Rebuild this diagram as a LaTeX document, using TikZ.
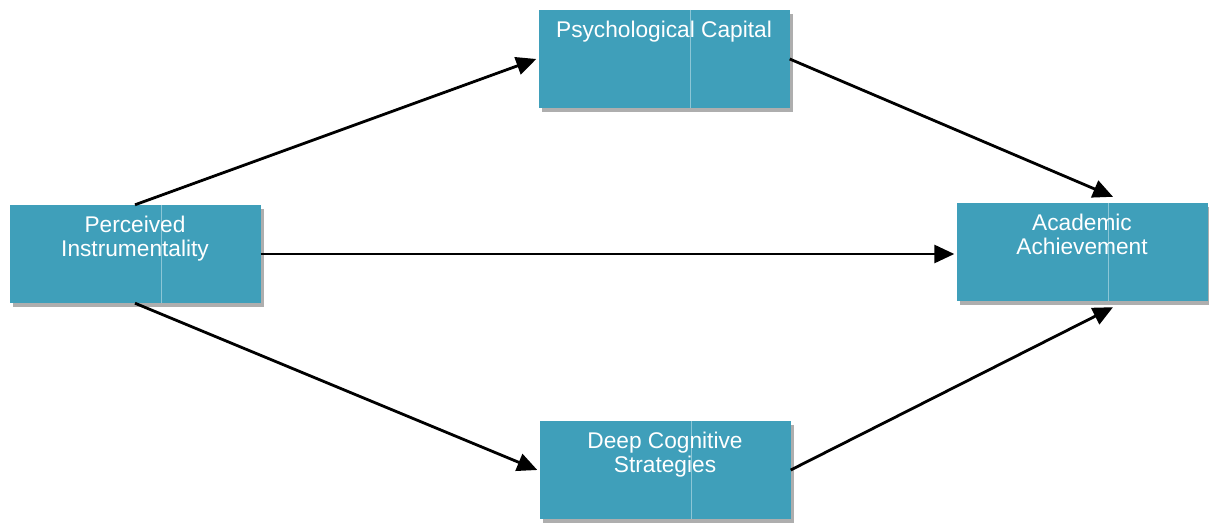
\documentclass[tikz,border=0pt]{standalone}
\usepackage{fontspec}
\setmainfont{Liberation Sans}
\usetikzlibrary{arrows.meta, shadows}
\definecolor{boxblue}{HTML}{3F9FBA}
\definecolor{divblue}{HTML}{8CC6D6}

\begin{document}
\begin{tikzpicture} [x=1pt, y=1pt,
  box/.style={rectangle, fill=boxblue, minimum width=251pt, minimum height=98pt,
              drop shadow={shadow xshift=3pt, shadow yshift=-4pt, opacity=0.45, fill=black!70}},
  title/.style={anchor=north, align=center, text=white, inner sep=0pt,
                font=\fontsize{22.7}{24}\selectfont},
  divline/.style={divblue, line width=0.8pt},
  link/.style={-{Triangle[length=20pt, width=18pt]}, line width=2.8pt}]
\useasboundingbox (0, 0) rectangle (1209, 523);

\path (664, 464) node[box] (pc) {}
      (135, 269) node[box] (pi) {}
      (1082, 271) node[box] (aa) {}
      (665, 53) node[box] (dcs) {};

\foreach \b in {pc, pi, aa, dcs}
  \draw[divline] ([xshift=26pt]\b.north) -- ([xshift=26pt]\b.south);

\path ([yshift=-11pt]pc.north) node[title] (pct) {Psychological Capital}
      ([yshift=-11pt]pi.north) node[title] (pit) {Perceived\\Instrumentality}
      ([yshift=-11pt]aa.north) node[title] (aat) {Academic\\Achievement}
      ([yshift=-11pt]dcs.north) node[title] (dcst) {Deep Cognitive\\Strategies};

\draw[link] (pi.north) to ([xshift=-2pt]pc.west);
\draw[link] (pc.east) to ([xshift=31pt, yshift=6pt]aa.north);
\draw[link] (pi.east) to ([xshift=-2pt]pi.east -| aa.west);
\draw[link] (pi.south) to ([xshift=-2pt]dcs.west);
\draw[link] (dcs.east) to ([xshift=31pt, yshift=-6pt]aa.south);

\end{tikzpicture}
\end{document}
